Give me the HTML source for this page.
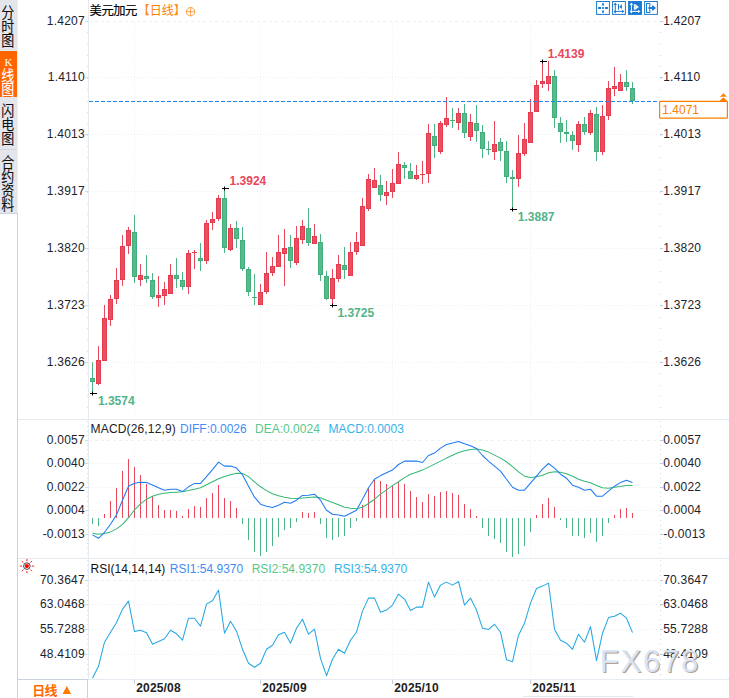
<!DOCTYPE html>
<html><head><meta charset="utf-8"><title>USDCAD</title>
<style>html,body{margin:0;padding:0;background:#fff;}body{width:729px;height:698px;overflow:hidden;font-family:"Liberation Sans",sans-serif;}</style>
</head><body><svg width="729" height="698" viewBox="0 0 729 698" shape-rendering="auto" style="display:block"><rect width="729" height="698" fill="#fff"/>
<line x1="89" y1="21.5" x2="657" y2="21.5" stroke="#edf1f5" stroke-width="1" stroke-dasharray="3 3"/>
<line x1="89" y1="77.5" x2="657" y2="77.5" stroke="#ebeef3" stroke-width="1" stroke-dasharray="1 2"/>
<line x1="89" y1="134.5" x2="657" y2="134.5" stroke="#ebeef3" stroke-width="1" stroke-dasharray="1 2"/>
<line x1="89" y1="191.5" x2="657" y2="191.5" stroke="#ebeef3" stroke-width="1" stroke-dasharray="1 2"/>
<line x1="89" y1="248.5" x2="657" y2="248.5" stroke="#ebeef3" stroke-width="1" stroke-dasharray="1 2"/>
<line x1="89" y1="305.5" x2="657" y2="305.5" stroke="#ebeef3" stroke-width="1" stroke-dasharray="1 2"/>
<line x1="89" y1="362.5" x2="657" y2="362.5" stroke="#ebeef3" stroke-width="1" stroke-dasharray="1 2"/>
<line x1="134.5" y1="22" x2="134.5" y2="418" stroke="#edf0f4" stroke-width="1" stroke-dasharray="1 2"/>
<line x1="134.5" y1="441" x2="134.5" y2="558" stroke="#edf0f4" stroke-width="1" stroke-dasharray="1 2"/>
<line x1="134.5" y1="581" x2="134.5" y2="679" stroke="#edf0f4" stroke-width="1" stroke-dasharray="1 2"/>
<line x1="260.5" y1="22" x2="260.5" y2="418" stroke="#edf0f4" stroke-width="1" stroke-dasharray="1 2"/>
<line x1="260.5" y1="441" x2="260.5" y2="558" stroke="#edf0f4" stroke-width="1" stroke-dasharray="1 2"/>
<line x1="260.5" y1="581" x2="260.5" y2="679" stroke="#edf0f4" stroke-width="1" stroke-dasharray="1 2"/>
<line x1="392.5" y1="22" x2="392.5" y2="418" stroke="#edf0f4" stroke-width="1" stroke-dasharray="1 2"/>
<line x1="392.5" y1="441" x2="392.5" y2="558" stroke="#edf0f4" stroke-width="1" stroke-dasharray="1 2"/>
<line x1="392.5" y1="581" x2="392.5" y2="679" stroke="#edf0f4" stroke-width="1" stroke-dasharray="1 2"/>
<line x1="530.5" y1="22" x2="530.5" y2="418" stroke="#edf0f4" stroke-width="1" stroke-dasharray="1 2"/>
<line x1="530.5" y1="441" x2="530.5" y2="558" stroke="#edf0f4" stroke-width="1" stroke-dasharray="1 2"/>
<line x1="530.5" y1="581" x2="530.5" y2="679" stroke="#edf0f4" stroke-width="1" stroke-dasharray="1 2"/>
<line x1="89" y1="440.5" x2="657" y2="440.5" stroke="#edf1f5" stroke-width="1" stroke-dasharray="3 3"/>
<line x1="89" y1="463.5" x2="657" y2="463.5" stroke="#ebeef3" stroke-width="1" stroke-dasharray="1 2"/>
<line x1="89" y1="487.5" x2="657" y2="487.5" stroke="#ebeef3" stroke-width="1" stroke-dasharray="1 2"/>
<line x1="89" y1="510.5" x2="657" y2="510.5" stroke="#ebeef3" stroke-width="1" stroke-dasharray="1 2"/>
<line x1="89" y1="534.5" x2="657" y2="534.5" stroke="#ebeef3" stroke-width="1" stroke-dasharray="1 2"/>
<line x1="89" y1="580.5" x2="657" y2="580.5" stroke="#edf1f5" stroke-width="1" stroke-dasharray="3 3"/>
<line x1="89" y1="604.5" x2="657" y2="604.5" stroke="#ebeef3" stroke-width="1" stroke-dasharray="1 2"/>
<line x1="89" y1="629.5" x2="657" y2="629.5" stroke="#ebeef3" stroke-width="1" stroke-dasharray="1 2"/>
<line x1="89" y1="654.5" x2="657" y2="654.5" stroke="#ebeef3" stroke-width="1" stroke-dasharray="1 2"/>
<line x1="18" y1="419.5" x2="729" y2="419.5" stroke="#e6ebf2"/>
<line x1="18" y1="558.5" x2="729" y2="558.5" stroke="#e6ebf2"/>
<line x1="18" y1="679.5" x2="729" y2="679.5" stroke="#e6ebf2"/>
<line x1="88.5" y1="0" x2="88.5" y2="679" stroke="#e6ebf2"/>
<line x1="87" y1="21.5" x2="88" y2="21.5" stroke="#d8dfe8"/>
<line x1="87" y1="32.5" x2="88" y2="32.5" stroke="#d8dfe8"/>
<line x1="87" y1="44.5" x2="88" y2="44.5" stroke="#d8dfe8"/>
<line x1="87" y1="55.5" x2="88" y2="55.5" stroke="#d8dfe8"/>
<line x1="87" y1="66.5" x2="88" y2="66.5" stroke="#d8dfe8"/>
<line x1="87" y1="78.5" x2="88" y2="78.5" stroke="#d8dfe8"/>
<line x1="87" y1="89.5" x2="88" y2="89.5" stroke="#d8dfe8"/>
<line x1="87" y1="101.5" x2="88" y2="101.5" stroke="#d8dfe8"/>
<line x1="87" y1="112.5" x2="88" y2="112.5" stroke="#d8dfe8"/>
<line x1="87" y1="123.5" x2="88" y2="123.5" stroke="#d8dfe8"/>
<line x1="87" y1="135.5" x2="88" y2="135.5" stroke="#d8dfe8"/>
<line x1="87" y1="146.5" x2="88" y2="146.5" stroke="#d8dfe8"/>
<line x1="87" y1="157.5" x2="88" y2="157.5" stroke="#d8dfe8"/>
<line x1="87" y1="169.5" x2="88" y2="169.5" stroke="#d8dfe8"/>
<line x1="87" y1="180.5" x2="88" y2="180.5" stroke="#d8dfe8"/>
<line x1="87" y1="192.5" x2="88" y2="192.5" stroke="#d8dfe8"/>
<line x1="87" y1="203.5" x2="88" y2="203.5" stroke="#d8dfe8"/>
<line x1="87" y1="214.5" x2="88" y2="214.5" stroke="#d8dfe8"/>
<line x1="87" y1="226.5" x2="88" y2="226.5" stroke="#d8dfe8"/>
<line x1="87" y1="237.5" x2="88" y2="237.5" stroke="#d8dfe8"/>
<line x1="87" y1="248.5" x2="88" y2="248.5" stroke="#d8dfe8"/>
<line x1="87" y1="260.5" x2="88" y2="260.5" stroke="#d8dfe8"/>
<line x1="87" y1="271.5" x2="88" y2="271.5" stroke="#d8dfe8"/>
<line x1="87" y1="282.5" x2="88" y2="282.5" stroke="#d8dfe8"/>
<line x1="87" y1="294.5" x2="88" y2="294.5" stroke="#d8dfe8"/>
<line x1="87" y1="305.5" x2="88" y2="305.5" stroke="#d8dfe8"/>
<line x1="87" y1="317.5" x2="88" y2="317.5" stroke="#d8dfe8"/>
<line x1="87" y1="328.5" x2="88" y2="328.5" stroke="#d8dfe8"/>
<line x1="87" y1="339.5" x2="88" y2="339.5" stroke="#d8dfe8"/>
<line x1="87" y1="351.5" x2="88" y2="351.5" stroke="#d8dfe8"/>
<line x1="87" y1="362.5" x2="88" y2="362.5" stroke="#d8dfe8"/>
<line x1="87" y1="373.5" x2="88" y2="373.5" stroke="#d8dfe8"/>
<line x1="87" y1="385.5" x2="88" y2="385.5" stroke="#d8dfe8"/>
<line x1="87" y1="396.5" x2="88" y2="396.5" stroke="#d8dfe8"/>
<line x1="87" y1="407.5" x2="88" y2="407.5" stroke="#d8dfe8"/>
<line x1="660" y1="21.5" x2="661" y2="21.5" stroke="#d0d8e2"/>
<line x1="660" y1="32.5" x2="661" y2="32.5" stroke="#d0d8e2"/>
<line x1="660" y1="44.5" x2="661" y2="44.5" stroke="#d0d8e2"/>
<line x1="660" y1="55.5" x2="661" y2="55.5" stroke="#d0d8e2"/>
<line x1="660" y1="66.5" x2="661" y2="66.5" stroke="#d0d8e2"/>
<line x1="660" y1="78.5" x2="661" y2="78.5" stroke="#d0d8e2"/>
<line x1="660" y1="89.5" x2="661" y2="89.5" stroke="#d0d8e2"/>
<line x1="660" y1="101.5" x2="661" y2="101.5" stroke="#d0d8e2"/>
<line x1="660" y1="112.5" x2="661" y2="112.5" stroke="#d0d8e2"/>
<line x1="660" y1="123.5" x2="661" y2="123.5" stroke="#d0d8e2"/>
<line x1="660" y1="135.5" x2="661" y2="135.5" stroke="#d0d8e2"/>
<line x1="660" y1="146.5" x2="661" y2="146.5" stroke="#d0d8e2"/>
<line x1="660" y1="157.5" x2="661" y2="157.5" stroke="#d0d8e2"/>
<line x1="660" y1="169.5" x2="661" y2="169.5" stroke="#d0d8e2"/>
<line x1="660" y1="180.5" x2="661" y2="180.5" stroke="#d0d8e2"/>
<line x1="660" y1="192.5" x2="661" y2="192.5" stroke="#d0d8e2"/>
<line x1="660" y1="203.5" x2="661" y2="203.5" stroke="#d0d8e2"/>
<line x1="660" y1="214.5" x2="661" y2="214.5" stroke="#d0d8e2"/>
<line x1="660" y1="226.5" x2="661" y2="226.5" stroke="#d0d8e2"/>
<line x1="660" y1="237.5" x2="661" y2="237.5" stroke="#d0d8e2"/>
<line x1="660" y1="248.5" x2="661" y2="248.5" stroke="#d0d8e2"/>
<line x1="660" y1="260.5" x2="661" y2="260.5" stroke="#d0d8e2"/>
<line x1="660" y1="271.5" x2="661" y2="271.5" stroke="#d0d8e2"/>
<line x1="660" y1="282.5" x2="661" y2="282.5" stroke="#d0d8e2"/>
<line x1="660" y1="294.5" x2="661" y2="294.5" stroke="#d0d8e2"/>
<line x1="660" y1="305.5" x2="661" y2="305.5" stroke="#d0d8e2"/>
<line x1="660" y1="317.5" x2="661" y2="317.5" stroke="#d0d8e2"/>
<line x1="660" y1="328.5" x2="661" y2="328.5" stroke="#d0d8e2"/>
<line x1="660" y1="339.5" x2="661" y2="339.5" stroke="#d0d8e2"/>
<line x1="660" y1="351.5" x2="661" y2="351.5" stroke="#d0d8e2"/>
<line x1="660" y1="362.5" x2="661" y2="362.5" stroke="#d0d8e2"/>
<line x1="660" y1="373.5" x2="661" y2="373.5" stroke="#d0d8e2"/>
<line x1="660" y1="385.5" x2="661" y2="385.5" stroke="#d0d8e2"/>
<line x1="660" y1="396.5" x2="661" y2="396.5" stroke="#d0d8e2"/>
<line x1="660" y1="407.5" x2="661" y2="407.5" stroke="#d0d8e2"/>
<line x1="85" y1="21.5" x2="88" y2="21.5" stroke="#d3dae3"/>
<line x1="85" y1="77.5" x2="88" y2="77.5" stroke="#d3dae3"/>
<line x1="85" y1="134.5" x2="88" y2="134.5" stroke="#d3dae3"/>
<line x1="85" y1="191.5" x2="88" y2="191.5" stroke="#d3dae3"/>
<line x1="85" y1="248.5" x2="88" y2="248.5" stroke="#d3dae3"/>
<line x1="85" y1="305.5" x2="88" y2="305.5" stroke="#d3dae3"/>
<line x1="85" y1="362.5" x2="88" y2="362.5" stroke="#d3dae3"/>
<line x1="660" y1="21.5" x2="663" y2="21.5" stroke="#c0c8d3"/>
<line x1="660" y1="77.5" x2="663" y2="77.5" stroke="#c0c8d3"/>
<line x1="660" y1="134.5" x2="663" y2="134.5" stroke="#c0c8d3"/>
<line x1="660" y1="191.5" x2="663" y2="191.5" stroke="#c0c8d3"/>
<line x1="660" y1="248.5" x2="663" y2="248.5" stroke="#c0c8d3"/>
<line x1="660" y1="305.5" x2="663" y2="305.5" stroke="#c0c8d3"/>
<line x1="660" y1="362.5" x2="663" y2="362.5" stroke="#c0c8d3"/>
<line x1="87" y1="421.5" x2="88" y2="421.5" stroke="#d8dfe8"/>
<line x1="87" y1="426.5" x2="88" y2="426.5" stroke="#d8dfe8"/>
<line x1="87" y1="431.5" x2="88" y2="431.5" stroke="#d8dfe8"/>
<line x1="87" y1="435.5" x2="88" y2="435.5" stroke="#d8dfe8"/>
<line x1="87" y1="440.5" x2="88" y2="440.5" stroke="#d8dfe8"/>
<line x1="87" y1="445.5" x2="88" y2="445.5" stroke="#d8dfe8"/>
<line x1="87" y1="449.5" x2="88" y2="449.5" stroke="#d8dfe8"/>
<line x1="87" y1="454.5" x2="88" y2="454.5" stroke="#d8dfe8"/>
<line x1="87" y1="459.5" x2="88" y2="459.5" stroke="#d8dfe8"/>
<line x1="87" y1="463.5" x2="88" y2="463.5" stroke="#d8dfe8"/>
<line x1="87" y1="468.5" x2="88" y2="468.5" stroke="#d8dfe8"/>
<line x1="87" y1="473.5" x2="88" y2="473.5" stroke="#d8dfe8"/>
<line x1="87" y1="478.5" x2="88" y2="478.5" stroke="#d8dfe8"/>
<line x1="87" y1="482.5" x2="88" y2="482.5" stroke="#d8dfe8"/>
<line x1="87" y1="487.5" x2="88" y2="487.5" stroke="#d8dfe8"/>
<line x1="87" y1="492.5" x2="88" y2="492.5" stroke="#d8dfe8"/>
<line x1="87" y1="496.5" x2="88" y2="496.5" stroke="#d8dfe8"/>
<line x1="87" y1="501.5" x2="88" y2="501.5" stroke="#d8dfe8"/>
<line x1="87" y1="506.5" x2="88" y2="506.5" stroke="#d8dfe8"/>
<line x1="87" y1="510.5" x2="88" y2="510.5" stroke="#d8dfe8"/>
<line x1="87" y1="515.5" x2="88" y2="515.5" stroke="#d8dfe8"/>
<line x1="87" y1="520.5" x2="88" y2="520.5" stroke="#d8dfe8"/>
<line x1="87" y1="525.5" x2="88" y2="525.5" stroke="#d8dfe8"/>
<line x1="87" y1="529.5" x2="88" y2="529.5" stroke="#d8dfe8"/>
<line x1="87" y1="534.5" x2="88" y2="534.5" stroke="#d8dfe8"/>
<line x1="87" y1="539.5" x2="88" y2="539.5" stroke="#d8dfe8"/>
<line x1="87" y1="543.5" x2="88" y2="543.5" stroke="#d8dfe8"/>
<line x1="87" y1="548.5" x2="88" y2="548.5" stroke="#d8dfe8"/>
<line x1="87" y1="553.5" x2="88" y2="553.5" stroke="#d8dfe8"/>
<line x1="660" y1="421.5" x2="661" y2="421.5" stroke="#d0d8e2"/>
<line x1="660" y1="426.5" x2="661" y2="426.5" stroke="#d0d8e2"/>
<line x1="660" y1="431.5" x2="661" y2="431.5" stroke="#d0d8e2"/>
<line x1="660" y1="435.5" x2="661" y2="435.5" stroke="#d0d8e2"/>
<line x1="660" y1="440.5" x2="661" y2="440.5" stroke="#d0d8e2"/>
<line x1="660" y1="445.5" x2="661" y2="445.5" stroke="#d0d8e2"/>
<line x1="660" y1="449.5" x2="661" y2="449.5" stroke="#d0d8e2"/>
<line x1="660" y1="454.5" x2="661" y2="454.5" stroke="#d0d8e2"/>
<line x1="660" y1="459.5" x2="661" y2="459.5" stroke="#d0d8e2"/>
<line x1="660" y1="463.5" x2="661" y2="463.5" stroke="#d0d8e2"/>
<line x1="660" y1="468.5" x2="661" y2="468.5" stroke="#d0d8e2"/>
<line x1="660" y1="473.5" x2="661" y2="473.5" stroke="#d0d8e2"/>
<line x1="660" y1="478.5" x2="661" y2="478.5" stroke="#d0d8e2"/>
<line x1="660" y1="482.5" x2="661" y2="482.5" stroke="#d0d8e2"/>
<line x1="660" y1="487.5" x2="661" y2="487.5" stroke="#d0d8e2"/>
<line x1="660" y1="492.5" x2="661" y2="492.5" stroke="#d0d8e2"/>
<line x1="660" y1="496.5" x2="661" y2="496.5" stroke="#d0d8e2"/>
<line x1="660" y1="501.5" x2="661" y2="501.5" stroke="#d0d8e2"/>
<line x1="660" y1="506.5" x2="661" y2="506.5" stroke="#d0d8e2"/>
<line x1="660" y1="510.5" x2="661" y2="510.5" stroke="#d0d8e2"/>
<line x1="660" y1="515.5" x2="661" y2="515.5" stroke="#d0d8e2"/>
<line x1="660" y1="520.5" x2="661" y2="520.5" stroke="#d0d8e2"/>
<line x1="660" y1="525.5" x2="661" y2="525.5" stroke="#d0d8e2"/>
<line x1="660" y1="529.5" x2="661" y2="529.5" stroke="#d0d8e2"/>
<line x1="660" y1="534.5" x2="661" y2="534.5" stroke="#d0d8e2"/>
<line x1="660" y1="539.5" x2="661" y2="539.5" stroke="#d0d8e2"/>
<line x1="660" y1="543.5" x2="661" y2="543.5" stroke="#d0d8e2"/>
<line x1="660" y1="548.5" x2="661" y2="548.5" stroke="#d0d8e2"/>
<line x1="660" y1="553.5" x2="661" y2="553.5" stroke="#d0d8e2"/>
<line x1="85" y1="440.5" x2="88" y2="440.5" stroke="#d3dae3"/>
<line x1="85" y1="463.5" x2="88" y2="463.5" stroke="#d3dae3"/>
<line x1="85" y1="487.5" x2="88" y2="487.5" stroke="#d3dae3"/>
<line x1="85" y1="510.5" x2="88" y2="510.5" stroke="#d3dae3"/>
<line x1="85" y1="534.5" x2="88" y2="534.5" stroke="#d3dae3"/>
<line x1="660" y1="440.5" x2="663" y2="440.5" stroke="#c0c8d3"/>
<line x1="660" y1="463.5" x2="663" y2="463.5" stroke="#c0c8d3"/>
<line x1="660" y1="487.5" x2="663" y2="487.5" stroke="#c0c8d3"/>
<line x1="660" y1="510.5" x2="663" y2="510.5" stroke="#c0c8d3"/>
<line x1="660" y1="534.5" x2="663" y2="534.5" stroke="#c0c8d3"/>
<line x1="87" y1="560.5" x2="88" y2="560.5" stroke="#d8dfe8"/>
<line x1="87" y1="565.5" x2="88" y2="565.5" stroke="#d8dfe8"/>
<line x1="87" y1="570.5" x2="88" y2="570.5" stroke="#d8dfe8"/>
<line x1="87" y1="575.5" x2="88" y2="575.5" stroke="#d8dfe8"/>
<line x1="87" y1="580.5" x2="88" y2="580.5" stroke="#d8dfe8"/>
<line x1="87" y1="585.5" x2="88" y2="585.5" stroke="#d8dfe8"/>
<line x1="87" y1="590.5" x2="88" y2="590.5" stroke="#d8dfe8"/>
<line x1="87" y1="595.5" x2="88" y2="595.5" stroke="#d8dfe8"/>
<line x1="87" y1="600.5" x2="88" y2="600.5" stroke="#d8dfe8"/>
<line x1="87" y1="605.5" x2="88" y2="605.5" stroke="#d8dfe8"/>
<line x1="87" y1="610.5" x2="88" y2="610.5" stroke="#d8dfe8"/>
<line x1="87" y1="615.5" x2="88" y2="615.5" stroke="#d8dfe8"/>
<line x1="87" y1="619.5" x2="88" y2="619.5" stroke="#d8dfe8"/>
<line x1="87" y1="624.5" x2="88" y2="624.5" stroke="#d8dfe8"/>
<line x1="87" y1="629.5" x2="88" y2="629.5" stroke="#d8dfe8"/>
<line x1="87" y1="634.5" x2="88" y2="634.5" stroke="#d8dfe8"/>
<line x1="87" y1="639.5" x2="88" y2="639.5" stroke="#d8dfe8"/>
<line x1="87" y1="644.5" x2="88" y2="644.5" stroke="#d8dfe8"/>
<line x1="87" y1="649.5" x2="88" y2="649.5" stroke="#d8dfe8"/>
<line x1="87" y1="654.5" x2="88" y2="654.5" stroke="#d8dfe8"/>
<line x1="87" y1="659.5" x2="88" y2="659.5" stroke="#d8dfe8"/>
<line x1="87" y1="664.5" x2="88" y2="664.5" stroke="#d8dfe8"/>
<line x1="87" y1="669.5" x2="88" y2="669.5" stroke="#d8dfe8"/>
<line x1="87" y1="674.5" x2="88" y2="674.5" stroke="#d8dfe8"/>
<line x1="660" y1="560.5" x2="661" y2="560.5" stroke="#d0d8e2"/>
<line x1="660" y1="565.5" x2="661" y2="565.5" stroke="#d0d8e2"/>
<line x1="660" y1="570.5" x2="661" y2="570.5" stroke="#d0d8e2"/>
<line x1="660" y1="575.5" x2="661" y2="575.5" stroke="#d0d8e2"/>
<line x1="660" y1="580.5" x2="661" y2="580.5" stroke="#d0d8e2"/>
<line x1="660" y1="585.5" x2="661" y2="585.5" stroke="#d0d8e2"/>
<line x1="660" y1="590.5" x2="661" y2="590.5" stroke="#d0d8e2"/>
<line x1="660" y1="595.5" x2="661" y2="595.5" stroke="#d0d8e2"/>
<line x1="660" y1="600.5" x2="661" y2="600.5" stroke="#d0d8e2"/>
<line x1="660" y1="605.5" x2="661" y2="605.5" stroke="#d0d8e2"/>
<line x1="660" y1="610.5" x2="661" y2="610.5" stroke="#d0d8e2"/>
<line x1="660" y1="615.5" x2="661" y2="615.5" stroke="#d0d8e2"/>
<line x1="660" y1="619.5" x2="661" y2="619.5" stroke="#d0d8e2"/>
<line x1="660" y1="624.5" x2="661" y2="624.5" stroke="#d0d8e2"/>
<line x1="660" y1="629.5" x2="661" y2="629.5" stroke="#d0d8e2"/>
<line x1="660" y1="634.5" x2="661" y2="634.5" stroke="#d0d8e2"/>
<line x1="660" y1="639.5" x2="661" y2="639.5" stroke="#d0d8e2"/>
<line x1="660" y1="644.5" x2="661" y2="644.5" stroke="#d0d8e2"/>
<line x1="660" y1="649.5" x2="661" y2="649.5" stroke="#d0d8e2"/>
<line x1="660" y1="654.5" x2="661" y2="654.5" stroke="#d0d8e2"/>
<line x1="660" y1="659.5" x2="661" y2="659.5" stroke="#d0d8e2"/>
<line x1="660" y1="664.5" x2="661" y2="664.5" stroke="#d0d8e2"/>
<line x1="660" y1="669.5" x2="661" y2="669.5" stroke="#d0d8e2"/>
<line x1="660" y1="674.5" x2="661" y2="674.5" stroke="#d0d8e2"/>
<line x1="85" y1="580.5" x2="88" y2="580.5" stroke="#d3dae3"/>
<line x1="85" y1="604.5" x2="88" y2="604.5" stroke="#d3dae3"/>
<line x1="85" y1="629.5" x2="88" y2="629.5" stroke="#d3dae3"/>
<line x1="85" y1="654.5" x2="88" y2="654.5" stroke="#d3dae3"/>
<line x1="660" y1="580.5" x2="663" y2="580.5" stroke="#c0c8d3"/>
<line x1="660" y1="604.5" x2="663" y2="604.5" stroke="#c0c8d3"/>
<line x1="660" y1="629.5" x2="663" y2="629.5" stroke="#c0c8d3"/>
<line x1="660" y1="654.5" x2="663" y2="654.5" stroke="#c0c8d3"/>
<rect x="92" y="362" width="1" height="32" fill="#4db486"/>
<rect x="90.5" y="378.5" width="4" height="3" fill="#56ba8a" stroke="#41ae7c"/>
<rect x="98" y="346" width="1" height="39" fill="#e8485c"/>
<rect x="96.5" y="360.5" width="4" height="23" fill="#ea4e61" stroke="#e63a4f"/>
<rect x="104" y="305" width="1" height="56" fill="#e8485c"/>
<rect x="102.5" y="318.5" width="4" height="42" fill="#ea4e61" stroke="#e63a4f"/>
<rect x="110" y="295" width="1" height="31" fill="#e8485c"/>
<rect x="108.5" y="299.5" width="4" height="20" fill="#ea4e61" stroke="#e63a4f"/>
<rect x="116" y="268" width="1" height="36" fill="#e8485c"/>
<rect x="114.5" y="280.5" width="4" height="18" fill="#ea4e61" stroke="#e63a4f"/>
<rect x="122" y="235" width="1" height="51" fill="#e8485c"/>
<rect x="120.5" y="246.5" width="4" height="33" fill="#ea4e61" stroke="#e63a4f"/>
<rect x="128" y="227" width="1" height="27" fill="#e8485c"/>
<rect x="126.5" y="230.5" width="4" height="15" fill="#ea4e61" stroke="#e63a4f"/>
<rect x="134" y="215" width="1" height="68" fill="#4db486"/>
<rect x="132.5" y="232.5" width="4" height="44" fill="#56ba8a" stroke="#41ae7c"/>
<rect x="140" y="264" width="1" height="22" fill="#e8485c"/>
<rect x="138.5" y="275.5" width="4" height="4" fill="#ea4e61" stroke="#e63a4f"/>
<rect x="146" y="255" width="1" height="28" fill="#4db486"/>
<rect x="144.5" y="276.5" width="4" height="2" fill="#56ba8a" stroke="#41ae7c"/>
<rect x="152" y="273" width="1" height="26" fill="#4db486"/>
<rect x="150.5" y="280.5" width="4" height="16" fill="#56ba8a" stroke="#41ae7c"/>
<rect x="158" y="276" width="1" height="31" fill="#e8485c"/>
<rect x="156.5" y="295.5" width="4" height="2" fill="#ea4e61" stroke="#e63a4f"/>
<rect x="164" y="282" width="1" height="23" fill="#e8485c"/>
<rect x="162.5" y="289.5" width="4" height="6" fill="#ea4e61" stroke="#e63a4f"/>
<rect x="170" y="264" width="1" height="30" fill="#e8485c"/>
<rect x="168.5" y="275.5" width="4" height="18" fill="#ea4e61" stroke="#e63a4f"/>
<rect x="176" y="258" width="1" height="30" fill="#4db486"/>
<rect x="174.5" y="275.5" width="4" height="3" fill="#56ba8a" stroke="#41ae7c"/>
<rect x="182" y="272" width="1" height="18" fill="#4db486"/>
<rect x="180.5" y="280.5" width="4" height="6" fill="#56ba8a" stroke="#41ae7c"/>
<rect x="188" y="250" width="1" height="44" fill="#e8485c"/>
<rect x="186.5" y="253.5" width="4" height="33" fill="#ea4e61" stroke="#e63a4f"/>
<rect x="194" y="250" width="1" height="19" fill="#e8485c"/>
<rect x="192" y="252" width="5" height="1" fill="#e63a4f"/>
<rect x="200" y="243" width="1" height="28" fill="#4db486"/>
<rect x="198.5" y="258.5" width="4" height="2" fill="#56ba8a" stroke="#41ae7c"/>
<rect x="206" y="220" width="1" height="44" fill="#e8485c"/>
<rect x="204.5" y="223.5" width="4" height="37" fill="#ea4e61" stroke="#e63a4f"/>
<rect x="212" y="212" width="1" height="18" fill="#e8485c"/>
<rect x="210.5" y="219.5" width="4" height="3" fill="#ea4e61" stroke="#e63a4f"/>
<rect x="218" y="195" width="1" height="26" fill="#e8485c"/>
<rect x="216.5" y="198.5" width="4" height="20" fill="#ea4e61" stroke="#e63a4f"/>
<rect x="224" y="188" width="1" height="65" fill="#4db486"/>
<rect x="222.5" y="198.5" width="4" height="49" fill="#56ba8a" stroke="#41ae7c"/>
<rect x="230" y="224" width="1" height="27" fill="#e8485c"/>
<rect x="228.5" y="228.5" width="4" height="21" fill="#ea4e61" stroke="#e63a4f"/>
<rect x="236" y="221" width="1" height="27" fill="#4db486"/>
<rect x="234.5" y="228.5" width="4" height="10" fill="#56ba8a" stroke="#41ae7c"/>
<rect x="242" y="227" width="1" height="44" fill="#4db486"/>
<rect x="240.5" y="240.5" width="4" height="28" fill="#56ba8a" stroke="#41ae7c"/>
<rect x="248" y="267" width="1" height="29" fill="#4db486"/>
<rect x="246.5" y="269.5" width="4" height="22" fill="#56ba8a" stroke="#41ae7c"/>
<rect x="254" y="274" width="1" height="31" fill="#4db486"/>
<rect x="252" y="297" width="5" height="1" fill="#41ae7c"/>
<rect x="260" y="284" width="1" height="21" fill="#e8485c"/>
<rect x="258.5" y="292.5" width="4" height="12" fill="#ea4e61" stroke="#e63a4f"/>
<rect x="266" y="252" width="1" height="42" fill="#e8485c"/>
<rect x="264.5" y="273.5" width="4" height="18" fill="#ea4e61" stroke="#e63a4f"/>
<rect x="272" y="257" width="1" height="19" fill="#e8485c"/>
<rect x="270.5" y="266.5" width="4" height="6" fill="#ea4e61" stroke="#e63a4f"/>
<rect x="278" y="235" width="1" height="32" fill="#e8485c"/>
<rect x="276.5" y="252.5" width="4" height="14" fill="#ea4e61" stroke="#e63a4f"/>
<rect x="284" y="229" width="1" height="57" fill="#e8485c"/>
<rect x="282.5" y="248.5" width="4" height="5" fill="#ea4e61" stroke="#e63a4f"/>
<rect x="290" y="235" width="1" height="33" fill="#4db486"/>
<rect x="288.5" y="247.5" width="4" height="13" fill="#56ba8a" stroke="#41ae7c"/>
<rect x="296" y="226" width="1" height="39" fill="#e8485c"/>
<rect x="294.5" y="238.5" width="4" height="24" fill="#ea4e61" stroke="#e63a4f"/>
<rect x="302" y="220" width="1" height="24" fill="#e8485c"/>
<rect x="300.5" y="226.5" width="4" height="13" fill="#ea4e61" stroke="#e63a4f"/>
<rect x="308" y="208" width="1" height="38" fill="#4db486"/>
<rect x="306.5" y="228.5" width="4" height="14" fill="#56ba8a" stroke="#41ae7c"/>
<rect x="314" y="224" width="1" height="20" fill="#e8485c"/>
<rect x="312.5" y="236.5" width="4" height="7" fill="#ea4e61" stroke="#e63a4f"/>
<rect x="320" y="234" width="1" height="47" fill="#4db486"/>
<rect x="318.5" y="242.5" width="4" height="32" fill="#56ba8a" stroke="#41ae7c"/>
<rect x="326" y="271" width="1" height="29" fill="#4db486"/>
<rect x="324.5" y="276.5" width="4" height="22" fill="#56ba8a" stroke="#41ae7c"/>
<rect x="332" y="269" width="1" height="36" fill="#e8485c"/>
<rect x="330.5" y="278.5" width="4" height="20" fill="#ea4e61" stroke="#e63a4f"/>
<rect x="338" y="255" width="1" height="27" fill="#e8485c"/>
<rect x="336.5" y="264.5" width="4" height="14" fill="#ea4e61" stroke="#e63a4f"/>
<rect x="344" y="247" width="1" height="32" fill="#4db486"/>
<rect x="342.5" y="265.5" width="4" height="4" fill="#56ba8a" stroke="#41ae7c"/>
<rect x="350" y="242" width="1" height="34" fill="#e8485c"/>
<rect x="348.5" y="252.5" width="4" height="23" fill="#ea4e61" stroke="#e63a4f"/>
<rect x="356" y="232" width="1" height="23" fill="#e8485c"/>
<rect x="354.5" y="242.5" width="4" height="9" fill="#ea4e61" stroke="#e63a4f"/>
<rect x="362" y="198" width="1" height="48" fill="#e8485c"/>
<rect x="360.5" y="206.5" width="4" height="39" fill="#ea4e61" stroke="#e63a4f"/>
<rect x="368" y="174" width="1" height="37" fill="#e8485c"/>
<rect x="366.5" y="179.5" width="4" height="29" fill="#ea4e61" stroke="#e63a4f"/>
<rect x="374" y="168" width="1" height="20" fill="#e8485c"/>
<rect x="372.5" y="180.5" width="4" height="7" fill="#ea4e61" stroke="#e63a4f"/>
<rect x="380" y="175" width="1" height="26" fill="#4db486"/>
<rect x="378.5" y="185.5" width="4" height="9" fill="#56ba8a" stroke="#41ae7c"/>
<rect x="386" y="181" width="1" height="24" fill="#e8485c"/>
<rect x="384.5" y="192.5" width="4" height="3" fill="#ea4e61" stroke="#e63a4f"/>
<rect x="392" y="169" width="1" height="29" fill="#e8485c"/>
<rect x="390.5" y="183.5" width="4" height="8" fill="#ea4e61" stroke="#e63a4f"/>
<rect x="398" y="152" width="1" height="32" fill="#e8485c"/>
<rect x="396.5" y="164.5" width="4" height="19" fill="#ea4e61" stroke="#e63a4f"/>
<rect x="404" y="162" width="1" height="17" fill="#4db486"/>
<rect x="402.5" y="165.5" width="4" height="2" fill="#56ba8a" stroke="#41ae7c"/>
<rect x="410" y="163" width="1" height="16" fill="#4db486"/>
<rect x="408.5" y="171.5" width="4" height="7" fill="#56ba8a" stroke="#41ae7c"/>
<rect x="416" y="165" width="1" height="15" fill="#e8485c"/>
<rect x="414.5" y="175.5" width="4" height="3" fill="#ea4e61" stroke="#e63a4f"/>
<rect x="422" y="161" width="1" height="23" fill="#e8485c"/>
<rect x="420" y="174" width="5" height="1" fill="#e63a4f"/>
<rect x="428" y="124" width="1" height="59" fill="#e8485c"/>
<rect x="426.5" y="133.5" width="4" height="40" fill="#ea4e61" stroke="#e63a4f"/>
<rect x="434" y="124" width="1" height="34" fill="#4db486"/>
<rect x="432.5" y="136.5" width="4" height="9" fill="#56ba8a" stroke="#41ae7c"/>
<rect x="440" y="121" width="1" height="33" fill="#e8485c"/>
<rect x="438.5" y="123.5" width="4" height="28" fill="#ea4e61" stroke="#e63a4f"/>
<rect x="446" y="97" width="1" height="30" fill="#e8485c"/>
<rect x="444.5" y="118.5" width="4" height="6" fill="#ea4e61" stroke="#e63a4f"/>
<rect x="452" y="108" width="1" height="20" fill="#4db486"/>
<rect x="450" y="120" width="5" height="1" fill="#41ae7c"/>
<rect x="458" y="108" width="1" height="22" fill="#e8485c"/>
<rect x="456.5" y="113.5" width="4" height="9" fill="#ea4e61" stroke="#e63a4f"/>
<rect x="464" y="104" width="1" height="34" fill="#4db486"/>
<rect x="462.5" y="113.5" width="4" height="19" fill="#56ba8a" stroke="#41ae7c"/>
<rect x="470" y="114" width="1" height="27" fill="#e8485c"/>
<rect x="468.5" y="122.5" width="4" height="14" fill="#ea4e61" stroke="#e63a4f"/>
<rect x="476" y="105" width="1" height="37" fill="#4db486"/>
<rect x="474.5" y="123.5" width="4" height="7" fill="#56ba8a" stroke="#41ae7c"/>
<rect x="482" y="125" width="1" height="33" fill="#4db486"/>
<rect x="480.5" y="132.5" width="4" height="16" fill="#56ba8a" stroke="#41ae7c"/>
<rect x="488" y="141" width="1" height="14" fill="#4db486"/>
<rect x="486" y="149" width="5" height="1" fill="#41ae7c"/>
<rect x="494" y="121" width="1" height="39" fill="#e8485c"/>
<rect x="492.5" y="144.5" width="4" height="7" fill="#ea4e61" stroke="#e63a4f"/>
<rect x="500" y="138" width="1" height="23" fill="#4db486"/>
<rect x="498.5" y="142.5" width="4" height="8" fill="#56ba8a" stroke="#41ae7c"/>
<rect x="506" y="141" width="1" height="42" fill="#4db486"/>
<rect x="504.5" y="151.5" width="4" height="25" fill="#56ba8a" stroke="#41ae7c"/>
<rect x="512" y="170" width="1" height="39" fill="#4db486"/>
<rect x="510.5" y="177.5" width="4" height="1" fill="#56ba8a" stroke="#41ae7c"/>
<rect x="518" y="135" width="1" height="52" fill="#e8485c"/>
<rect x="516.5" y="153.5" width="4" height="25" fill="#ea4e61" stroke="#e63a4f"/>
<rect x="524" y="123" width="1" height="33" fill="#e8485c"/>
<rect x="522.5" y="139.5" width="4" height="14" fill="#ea4e61" stroke="#e63a4f"/>
<rect x="530" y="99" width="1" height="44" fill="#e8485c"/>
<rect x="528.5" y="112.5" width="4" height="30" fill="#ea4e61" stroke="#e63a4f"/>
<rect x="536" y="80" width="1" height="32" fill="#e8485c"/>
<rect x="534.5" y="85.5" width="4" height="26" fill="#ea4e61" stroke="#e63a4f"/>
<rect x="542" y="61" width="1" height="27" fill="#e8485c"/>
<rect x="540.5" y="81.5" width="4" height="2" fill="#ea4e61" stroke="#e63a4f"/>
<rect x="548" y="61" width="1" height="30" fill="#e8485c"/>
<rect x="546.5" y="76.5" width="4" height="7" fill="#ea4e61" stroke="#e63a4f"/>
<rect x="554" y="70" width="1" height="58" fill="#4db486"/>
<rect x="552.5" y="76.5" width="4" height="41" fill="#56ba8a" stroke="#41ae7c"/>
<rect x="560" y="117" width="1" height="26" fill="#4db486"/>
<rect x="558.5" y="123.5" width="4" height="8" fill="#56ba8a" stroke="#41ae7c"/>
<rect x="566" y="120" width="1" height="22" fill="#4db486"/>
<rect x="564.5" y="132.5" width="4" height="1" fill="#56ba8a" stroke="#41ae7c"/>
<rect x="572" y="131" width="1" height="19" fill="#4db486"/>
<rect x="570.5" y="135.5" width="4" height="5" fill="#56ba8a" stroke="#41ae7c"/>
<rect x="578" y="121" width="1" height="31" fill="#e8485c"/>
<rect x="576.5" y="124.5" width="4" height="20" fill="#ea4e61" stroke="#e63a4f"/>
<rect x="584" y="117" width="1" height="18" fill="#4db486"/>
<rect x="582.5" y="124.5" width="4" height="7" fill="#56ba8a" stroke="#41ae7c"/>
<rect x="590" y="110" width="1" height="25" fill="#e8485c"/>
<rect x="588.5" y="113.5" width="4" height="19" fill="#ea4e61" stroke="#e63a4f"/>
<rect x="596" y="107" width="1" height="54" fill="#4db486"/>
<rect x="594.5" y="114.5" width="4" height="37" fill="#56ba8a" stroke="#41ae7c"/>
<rect x="602" y="105" width="1" height="50" fill="#e8485c"/>
<rect x="600.5" y="116.5" width="4" height="35" fill="#ea4e61" stroke="#e63a4f"/>
<rect x="608" y="81" width="1" height="39" fill="#e8485c"/>
<rect x="606.5" y="88.5" width="4" height="27" fill="#ea4e61" stroke="#e63a4f"/>
<rect x="614" y="67" width="1" height="29" fill="#e8485c"/>
<rect x="612.5" y="86.5" width="4" height="2" fill="#ea4e61" stroke="#e63a4f"/>
<rect x="620" y="74" width="1" height="17" fill="#e8485c"/>
<rect x="618.5" y="82.5" width="4" height="8" fill="#ea4e61" stroke="#e63a4f"/>
<rect x="626" y="70" width="1" height="21" fill="#4db486"/>
<rect x="624.5" y="82.5" width="4" height="4" fill="#56ba8a" stroke="#41ae7c"/>
<rect x="632" y="82" width="1" height="22" fill="#4db486"/>
<rect x="630.5" y="88.5" width="4" height="12" fill="#56ba8a" stroke="#41ae7c"/>
<line x1="89" y1="101.5" x2="657" y2="101.5" stroke="#1e87f0" stroke-width="1" stroke-dasharray="4 2"/>
<path d="M90.0 393.5H97.0M92.5 391.5V395.5" stroke="#000" stroke-width="1" fill="none"/>
<path d="M222.0 188.5H229.0M224.5 186.5V190.5" stroke="#000" stroke-width="1" fill="none"/>
<path d="M330.0 305.5H337.0M332.5 303.5V307.5" stroke="#000" stroke-width="1" fill="none"/>
<path d="M510.0 209.5H517.0M512.5 207.5V211.5" stroke="#000" stroke-width="1" fill="none"/>
<path d="M540.0 61.5H547.0M542.5 59.5V63.5" stroke="#000" stroke-width="1" fill="none"/>
<text x="97.9" y="404.90000000000003" font-family="Liberation Sans, sans-serif" font-size="12" font-weight="bold" fill="#52b488">1.3574</text>
<text x="229.6" y="184.9" font-family="Liberation Sans, sans-serif" font-size="12" font-weight="bold" fill="#e8475b">1.3924</text>
<text x="337.4" y="316.5" font-family="Liberation Sans, sans-serif" font-size="12" font-weight="bold" fill="#52b488">1.3725</text>
<text x="517.8" y="220.8" font-family="Liberation Sans, sans-serif" font-size="12" font-weight="bold" fill="#52b488">1.3887</text>
<text x="547.7" y="57.9" font-family="Liberation Sans, sans-serif" font-size="12" font-weight="bold" fill="#e8475b">1.4139</text>
<rect x="92" y="518" width="1" height="6" fill="#4db486"/>
<rect x="98" y="518" width="1" height="8" fill="#4db486"/>
<rect x="104" y="514" width="1" height="4" fill="#e8485c"/>
<rect x="110" y="501" width="1" height="17" fill="#e8485c"/>
<rect x="116" y="488" width="1" height="30" fill="#e8485c"/>
<rect x="122" y="471" width="1" height="47" fill="#e8485c"/>
<rect x="128" y="459" width="1" height="59" fill="#e8485c"/>
<rect x="134" y="467" width="1" height="51" fill="#e8485c"/>
<rect x="140" y="475" width="1" height="43" fill="#e8485c"/>
<rect x="146" y="484" width="1" height="34" fill="#e8485c"/>
<rect x="152" y="496" width="1" height="22" fill="#e8485c"/>
<rect x="158" y="505" width="1" height="13" fill="#e8485c"/>
<rect x="164" y="510" width="1" height="8" fill="#e8485c"/>
<rect x="170" y="510" width="1" height="8" fill="#e8485c"/>
<rect x="176" y="511" width="1" height="7" fill="#e8485c"/>
<rect x="182" y="516" width="1" height="2" fill="#e8485c"/>
<rect x="188" y="509" width="1" height="9" fill="#e8485c"/>
<rect x="194" y="506" width="1" height="12" fill="#e8485c"/>
<rect x="200" y="507" width="1" height="11" fill="#e8485c"/>
<rect x="206" y="498" width="1" height="20" fill="#e8485c"/>
<rect x="212" y="493" width="1" height="25" fill="#e8485c"/>
<rect x="218" y="485" width="1" height="33" fill="#e8485c"/>
<rect x="224" y="498" width="1" height="20" fill="#e8485c"/>
<rect x="230" y="501" width="1" height="17" fill="#e8485c"/>
<rect x="236" y="508" width="1" height="10" fill="#e8485c"/>
<rect x="242" y="518" width="1" height="6" fill="#4db486"/>
<rect x="248" y="518" width="1" height="22" fill="#4db486"/>
<rect x="254" y="518" width="1" height="34" fill="#4db486"/>
<rect x="260" y="518" width="1" height="38" fill="#4db486"/>
<rect x="266" y="518" width="1" height="34" fill="#4db486"/>
<rect x="272" y="518" width="1" height="28" fill="#4db486"/>
<rect x="278" y="518" width="1" height="19" fill="#4db486"/>
<rect x="284" y="518" width="1" height="12" fill="#4db486"/>
<rect x="290" y="518" width="1" height="10" fill="#4db486"/>
<rect x="296" y="518" width="1" height="4" fill="#4db486"/>
<rect x="302" y="512" width="1" height="6" fill="#e8485c"/>
<rect x="308" y="513" width="1" height="5" fill="#e8485c"/>
<rect x="314" y="512" width="1" height="6" fill="#e8485c"/>
<rect x="320" y="518" width="1" height="6" fill="#4db486"/>
<rect x="326" y="518" width="1" height="20" fill="#4db486"/>
<rect x="332" y="518" width="1" height="22" fill="#4db486"/>
<rect x="338" y="518" width="1" height="19" fill="#4db486"/>
<rect x="344" y="518" width="1" height="18" fill="#4db486"/>
<rect x="350" y="518" width="1" height="10" fill="#4db486"/>
<rect x="356" y="518" width="1" height="3" fill="#4db486"/>
<rect x="362" y="505" width="1" height="13" fill="#e8485c"/>
<rect x="368" y="488" width="1" height="30" fill="#e8485c"/>
<rect x="374" y="480" width="1" height="38" fill="#e8485c"/>
<rect x="380" y="481" width="1" height="37" fill="#e8485c"/>
<rect x="386" y="484" width="1" height="34" fill="#e8485c"/>
<rect x="392" y="485" width="1" height="33" fill="#e8485c"/>
<rect x="398" y="482" width="1" height="36" fill="#e8485c"/>
<rect x="404" y="484" width="1" height="34" fill="#e8485c"/>
<rect x="410" y="491" width="1" height="27" fill="#e8485c"/>
<rect x="416" y="497" width="1" height="21" fill="#e8485c"/>
<rect x="422" y="502" width="1" height="16" fill="#e8485c"/>
<rect x="428" y="494" width="1" height="24" fill="#e8485c"/>
<rect x="434" y="496" width="1" height="22" fill="#e8485c"/>
<rect x="440" y="492" width="1" height="26" fill="#e8485c"/>
<rect x="446" y="491" width="1" height="27" fill="#e8485c"/>
<rect x="452" y="493" width="1" height="25" fill="#e8485c"/>
<rect x="458" y="495" width="1" height="23" fill="#e8485c"/>
<rect x="464" y="504" width="1" height="14" fill="#e8485c"/>
<rect x="470" y="509" width="1" height="9" fill="#e8485c"/>
<rect x="476" y="516" width="1" height="2" fill="#e8485c"/>
<rect x="482" y="518" width="1" height="10" fill="#4db486"/>
<rect x="488" y="518" width="1" height="18" fill="#4db486"/>
<rect x="494" y="518" width="1" height="21" fill="#4db486"/>
<rect x="500" y="518" width="1" height="25" fill="#4db486"/>
<rect x="506" y="518" width="1" height="34" fill="#4db486"/>
<rect x="512" y="518" width="1" height="39" fill="#4db486"/>
<rect x="518" y="518" width="1" height="36" fill="#4db486"/>
<rect x="524" y="518" width="1" height="28" fill="#4db486"/>
<rect x="530" y="518" width="1" height="14" fill="#4db486"/>
<rect x="536" y="515" width="1" height="3" fill="#e8485c"/>
<rect x="542" y="504" width="1" height="14" fill="#e8485c"/>
<rect x="548" y="498" width="1" height="20" fill="#e8485c"/>
<rect x="554" y="507" width="1" height="11" fill="#e8485c"/>
<rect x="560" y="518" width="1" height="2" fill="#4db486"/>
<rect x="566" y="518" width="1" height="10" fill="#4db486"/>
<rect x="572" y="518" width="1" height="18" fill="#4db486"/>
<rect x="578" y="518" width="1" height="18" fill="#4db486"/>
<rect x="584" y="518" width="1" height="20" fill="#4db486"/>
<rect x="590" y="518" width="1" height="15" fill="#4db486"/>
<rect x="596" y="518" width="1" height="24" fill="#4db486"/>
<rect x="602" y="518" width="1" height="18" fill="#4db486"/>
<rect x="608" y="518" width="1" height="5" fill="#4db486"/>
<rect x="614" y="515" width="1" height="3" fill="#e8485c"/>
<rect x="620" y="509" width="1" height="9" fill="#e8485c"/>
<rect x="626" y="508" width="1" height="10" fill="#e8485c"/>
<rect x="632" y="513" width="1" height="5" fill="#e8485c"/>
<polyline points="92.5,533.3 98.5,534.3 104.5,533.5 110.5,531.9 116.5,528.9 122.5,524.3 128.5,517.7 134.5,509.9 140.5,503.8 146.5,499.2 152.5,496.2 158.5,494.2 164.5,493.2 170.5,492.6 176.5,492.2 182.5,491.8 188.5,490.6 194.5,489.2 200.5,487.8 206.5,484.8 212.5,481.8 218.5,478.8 224.5,476.6 230.5,474.8 236.5,473.2 242.5,473.4 248.5,476.6 254.5,481.8 260.5,486.8 266.5,490.6 272.5,493.8 278.5,495.8 284.5,497.2 290.5,498.2 296.5,498.4 302.5,498.0 308.5,497.4 314.5,497.0 320.5,497.8 326.5,500.2 332.5,502.6 338.5,504.8 344.5,507.3 350.5,508.3 356.5,508.7 362.5,507.3 368.5,503.5 374.5,499.2 380.5,494.2 386.5,489.8 392.5,485.6 398.5,481.8 404.5,477.6 410.5,474.2 416.5,472.2 422.5,470.1 428.5,467.1 434.5,464.1 440.5,461.1 446.5,458.1 452.5,455.3 458.5,452.5 464.5,450.7 470.5,449.5 476.5,449.1 482.5,450.1 488.5,452.1 494.5,455.1 500.5,458.1 506.5,461.8 512.5,466.7 518.5,471.8 524.5,476.2 530.5,477.6 536.5,476.8 542.5,475.2 548.5,472.8 554.5,471.8 560.5,472.2 566.5,473.8 572.5,476.2 578.5,479.2 584.5,481.2 590.5,482.8 596.5,485.6 602.5,487.8 608.5,488.2 614.5,487.2 620.5,486.6 626.5,485.6 632.5,485.4" fill="none" stroke="#34b876" stroke-width="1.05" stroke-linejoin="round"/>
<polyline points="92.5,534.9 98.5,538.3 104.5,532.3 110.5,524.3 116.5,514.9 122.5,500.2 128.5,486.2 134.5,483.2 140.5,482.2 146.5,482.4 152.5,485.0 158.5,487.8 164.5,490.2 170.5,489.2 176.5,489.2 182.5,491.6 188.5,486.8 194.5,483.4 200.5,483.4 206.5,476.6 212.5,469.7 218.5,462.1 224.5,466.1 230.5,466.1 236.5,468.1 242.5,474.8 248.5,486.2 254.5,497.2 260.5,504.2 266.5,506.2 272.5,507.4 278.5,505.2 284.5,502.2 290.5,503.2 296.5,500.2 302.5,495.4 308.5,495.2 314.5,494.2 320.5,500.2 326.5,510.3 332.5,514.3 338.5,514.9 344.5,516.3 350.5,513.3 356.5,510.3 362.5,499.2 368.5,487.7 374.5,479.2 380.5,475.6 386.5,472.8 392.5,470.1 398.5,464.5 404.5,461.1 410.5,461.1 416.5,461.1 422.5,462.5 428.5,455.5 434.5,453.1 440.5,448.1 446.5,444.5 452.5,443.1 458.5,441.5 464.5,443.7 470.5,445.7 476.5,448.5 482.5,455.5 488.5,461.1 494.5,466.1 500.5,471.1 506.5,479.2 512.5,487.2 518.5,490.2 524.5,490.2 530.5,483.2 536.5,476.2 542.5,469.1 548.5,463.5 554.5,468.1 560.5,474.2 566.5,478.2 572.5,485.2 578.5,487.2 584.5,490.2 590.5,489.2 596.5,496.2 602.5,496.2 608.5,491.2 614.5,486.2 620.5,482.6 626.5,480.2 632.5,482.6" fill="none" stroke="#1f7cf5" stroke-width="1.05" stroke-linejoin="round"/>
<polyline points="92.5,678.3 98.5,666.3 104.5,642.2 110.5,632.2 116.5,622.8 122.5,609.1 128.5,601.1 134.5,631.6 140.5,630.2 146.5,632.8 152.5,644.2 158.5,641.6 164.5,638.8 170.5,630.2 176.5,633.8 182.5,640.2 188.5,618.2 194.5,618.2 200.5,626.2 206.5,604.1 212.5,600.7 218.5,590.1 224.5,633.2 230.5,621.2 236.5,631.2 242.5,649.3 248.5,663.3 254.5,667.3 260.5,663.3 266.5,649.3 272.5,645.2 278.5,634.8 284.5,632.2 290.5,643.2 296.5,628.2 302.5,619.2 308.5,634.2 314.5,629.2 320.5,658.3 326.5,675.7 332.5,659.3 338.5,649.3 344.5,653.3 350.5,640.2 356.5,632.2 362.5,611.1 368.5,598.1 374.5,598.1 380.5,612.2 386.5,610.1 392.5,605.1 398.5,594.1 404.5,599.1 410.5,610.5 416.5,607.1 422.5,607.1 428.5,582.1 434.5,597.1 440.5,585.1 446.5,582.1 452.5,585.1 458.5,581.5 464.5,605.1 470.5,598.1 476.5,610.1 482.5,628.2 488.5,629.6 494.5,624.2 500.5,632.2 506.5,659.7 512.5,661.7 518.5,635.2 524.5,623.2 530.5,603.1 536.5,588.5 542.5,586.1 548.5,583.1 554.5,629.2 560.5,640.2 566.5,643.2 572.5,649.3 578.5,634.2 584.5,642.2 590.5,626.6 596.5,660.7 602.5,633.2 608.5,617.6 614.5,616.2 620.5,613.2 626.5,618.2 632.5,632.6" fill="none" stroke="#25a8e3" stroke-width="1.05" stroke-linejoin="round"/>
<text x="84.9" y="25.3" font-family="Liberation Sans, sans-serif" font-size="12" font-weight="normal" fill="#20232c" text-anchor="end" letter-spacing="0.22">1.4207</text>
<text x="663.2" y="25.3" font-family="Liberation Sans, sans-serif" font-size="12" font-weight="normal" fill="#20232c" text-anchor="start" letter-spacing="0.22">1.4207</text>
<text x="84.9" y="81.3" font-family="Liberation Sans, sans-serif" font-size="12" font-weight="normal" fill="#20232c" text-anchor="end" letter-spacing="0.22">1.4110</text>
<text x="663.2" y="81.3" font-family="Liberation Sans, sans-serif" font-size="12" font-weight="normal" fill="#20232c" text-anchor="start" letter-spacing="0.22">1.4110</text>
<text x="84.9" y="138.3" font-family="Liberation Sans, sans-serif" font-size="12" font-weight="normal" fill="#20232c" text-anchor="end" letter-spacing="0.22">1.4013</text>
<text x="663.2" y="138.3" font-family="Liberation Sans, sans-serif" font-size="12" font-weight="normal" fill="#20232c" text-anchor="start" letter-spacing="0.22">1.4013</text>
<text x="84.9" y="195.3" font-family="Liberation Sans, sans-serif" font-size="12" font-weight="normal" fill="#20232c" text-anchor="end" letter-spacing="0.22">1.3917</text>
<text x="663.2" y="195.3" font-family="Liberation Sans, sans-serif" font-size="12" font-weight="normal" fill="#20232c" text-anchor="start" letter-spacing="0.22">1.3917</text>
<text x="84.9" y="252.3" font-family="Liberation Sans, sans-serif" font-size="12" font-weight="normal" fill="#20232c" text-anchor="end" letter-spacing="0.22">1.3820</text>
<text x="663.2" y="252.3" font-family="Liberation Sans, sans-serif" font-size="12" font-weight="normal" fill="#20232c" text-anchor="start" letter-spacing="0.22">1.3820</text>
<text x="84.9" y="309.3" font-family="Liberation Sans, sans-serif" font-size="12" font-weight="normal" fill="#20232c" text-anchor="end" letter-spacing="0.22">1.3723</text>
<text x="663.2" y="309.3" font-family="Liberation Sans, sans-serif" font-size="12" font-weight="normal" fill="#20232c" text-anchor="start" letter-spacing="0.22">1.3723</text>
<text x="84.9" y="366.3" font-family="Liberation Sans, sans-serif" font-size="12" font-weight="normal" fill="#20232c" text-anchor="end" letter-spacing="0.22">1.3626</text>
<text x="663.2" y="366.3" font-family="Liberation Sans, sans-serif" font-size="12" font-weight="normal" fill="#20232c" text-anchor="start" letter-spacing="0.22">1.3626</text>
<text x="84.9" y="444.3" font-family="Liberation Sans, sans-serif" font-size="12" font-weight="normal" fill="#20232c" text-anchor="end" letter-spacing="0.22">0.0057</text>
<text x="663.2" y="444.3" font-family="Liberation Sans, sans-serif" font-size="12" font-weight="normal" fill="#20232c" text-anchor="start" letter-spacing="0.22">0.0057</text>
<text x="84.9" y="467.3" font-family="Liberation Sans, sans-serif" font-size="12" font-weight="normal" fill="#20232c" text-anchor="end" letter-spacing="0.22">0.0040</text>
<text x="663.2" y="467.3" font-family="Liberation Sans, sans-serif" font-size="12" font-weight="normal" fill="#20232c" text-anchor="start" letter-spacing="0.22">0.0040</text>
<text x="84.9" y="491.3" font-family="Liberation Sans, sans-serif" font-size="12" font-weight="normal" fill="#20232c" text-anchor="end" letter-spacing="0.22">0.0022</text>
<text x="663.2" y="491.3" font-family="Liberation Sans, sans-serif" font-size="12" font-weight="normal" fill="#20232c" text-anchor="start" letter-spacing="0.22">0.0022</text>
<text x="84.9" y="514.3" font-family="Liberation Sans, sans-serif" font-size="12" font-weight="normal" fill="#20232c" text-anchor="end" letter-spacing="0.22">0.0004</text>
<text x="663.2" y="514.3" font-family="Liberation Sans, sans-serif" font-size="12" font-weight="normal" fill="#20232c" text-anchor="start" letter-spacing="0.22">0.0004</text>
<text x="84.9" y="538.3" font-family="Liberation Sans, sans-serif" font-size="12" font-weight="normal" fill="#20232c" text-anchor="end" letter-spacing="0.22">-0.0013</text>
<text x="663.2" y="538.3" font-family="Liberation Sans, sans-serif" font-size="12" font-weight="normal" fill="#20232c" text-anchor="start" letter-spacing="0.22">-0.0013</text>
<text x="84.9" y="584.3" font-family="Liberation Sans, sans-serif" font-size="12" font-weight="normal" fill="#20232c" text-anchor="end" letter-spacing="0.22">70.3647</text>
<text x="663.2" y="584.3" font-family="Liberation Sans, sans-serif" font-size="12" font-weight="normal" fill="#20232c" text-anchor="start" letter-spacing="0.22">70.3647</text>
<text x="84.9" y="608.3" font-family="Liberation Sans, sans-serif" font-size="12" font-weight="normal" fill="#20232c" text-anchor="end" letter-spacing="0.22">63.0468</text>
<text x="663.2" y="608.3" font-family="Liberation Sans, sans-serif" font-size="12" font-weight="normal" fill="#20232c" text-anchor="start" letter-spacing="0.22">63.0468</text>
<text x="84.9" y="633.3" font-family="Liberation Sans, sans-serif" font-size="12" font-weight="normal" fill="#20232c" text-anchor="end" letter-spacing="0.22">55.7288</text>
<text x="663.2" y="633.3" font-family="Liberation Sans, sans-serif" font-size="12" font-weight="normal" fill="#20232c" text-anchor="start" letter-spacing="0.22">55.7288</text>
<text x="84.9" y="658.3" font-family="Liberation Sans, sans-serif" font-size="12" font-weight="normal" fill="#20232c" text-anchor="end" letter-spacing="0.22">48.4109</text>
<text x="663.2" y="658.3" font-family="Liberation Sans, sans-serif" font-size="12" font-weight="normal" fill="#20232c" text-anchor="start" letter-spacing="0.22">48.4109</text>
<text x="90.6" y="433" font-family="Liberation Sans, sans-serif" font-size="12" fill="#222" letter-spacing="0.15">MACD(26,12,9)</text>
<text x="180.0" y="433" font-family="Liberation Sans, sans-serif" font-size="12" font-weight="normal" fill="#3f8cf4" text-anchor="start" letter-spacing="0">DIFF:0.0026</text>
<text x="255.1" y="433" font-family="Liberation Sans, sans-serif" font-size="12" font-weight="normal" fill="#57c88c" text-anchor="start" letter-spacing="0">DEA:0.0024</text>
<text x="328.5" y="433" font-family="Liberation Sans, sans-serif" font-size="12" font-weight="normal" fill="#35b3ea" text-anchor="start" letter-spacing="0">MACD:0.0003</text>
<text x="90.6" y="573" font-family="Liberation Sans, sans-serif" font-size="12" font-weight="normal" fill="#111" text-anchor="start" letter-spacing="0">RSI(14,14,14)</text>
<text x="169.8" y="573" font-family="Liberation Sans, sans-serif" font-size="12" font-weight="normal" fill="#3f8cf4" text-anchor="start" letter-spacing="0">RSI1:54.9370</text>
<text x="251.7" y="573" font-family="Liberation Sans, sans-serif" font-size="12" font-weight="normal" fill="#57c88c" text-anchor="start" letter-spacing="0">RSI2:54.9370</text>
<text x="333.9" y="573" font-family="Liberation Sans, sans-serif" font-size="12" font-weight="normal" fill="#35b3ea" text-anchor="start" letter-spacing="0">RSI3:54.9370</text>
<text x="136.3" y="691.8" font-family="Liberation Sans, sans-serif" font-size="12" font-weight="bold" fill="#222" text-anchor="start" letter-spacing="0.15">2025/08</text>
<line x1="134.5" y1="680" x2="134.5" y2="684" stroke="#c8d0dc"/>
<text x="262.3" y="691.8" font-family="Liberation Sans, sans-serif" font-size="12" font-weight="bold" fill="#222" text-anchor="start" letter-spacing="0.15">2025/09</text>
<line x1="260.5" y1="680" x2="260.5" y2="684" stroke="#c8d0dc"/>
<text x="394.3" y="691.8" font-family="Liberation Sans, sans-serif" font-size="12" font-weight="bold" fill="#222" text-anchor="start" letter-spacing="0.15">2025/10</text>
<line x1="392.5" y1="680" x2="392.5" y2="684" stroke="#c8d0dc"/>
<text x="532.3" y="691.8" font-family="Liberation Sans, sans-serif" font-size="12" font-weight="bold" fill="#222" text-anchor="start" letter-spacing="0.15">2025/11</text>
<line x1="530.5" y1="680" x2="530.5" y2="684" stroke="#c8d0dc"/>
<rect x="659.6" y="101.4" width="67.8" height="16.8" rx="0.6" fill="#fff" stroke="#ff8000" stroke-width="1.2"/>
<text x="662.3" y="113.7" font-family="Liberation Sans, sans-serif" font-size="12" font-weight="normal" fill="#ff8000" text-anchor="start" letter-spacing="0">1.4071</text>
<path d="M719.2 101.2L723.4 97.3L727.6 101.2ZM719.9 96.8L723.4 93.2L726.9 96.8Z" fill="#ff8000"/>
<rect x="596.6" y="1.5" width="12.8" height="12.9" fill="#fff" stroke="#1c79d1" stroke-width="1"/>
<rect x="612.6" y="1.5" width="12.8" height="12.9" fill="#fff" stroke="#1c79d1" stroke-width="1"/>
<rect x="628.6" y="1.5" width="12.8" height="12.9" fill="#1c79d1" stroke="#1c79d1" stroke-width="1"/>
<rect x="644.6" y="1.5" width="12.8" height="12.9" fill="#fff" stroke="#1c79d1" stroke-width="1"/>
<path d="M598.1 8H601M605 8H607.9M603 3.2V5.6M603 10.4V12.8M602.2 8H603.8" stroke="#1c79d1" stroke-width="1.9" fill="none"/>
<path d="M615.3 3.4V12.8M614.1 11.4H623.6" stroke="#1c79d1" stroke-width="1" fill="none"/>
<path d="M615.3 2.6L617 5H613.6ZM624.4 11.4L622 9.8V13ZM615.3 13.4L616.3 12.2H614.3ZM613.6 11.4L614.8 10.5V12.3Z" fill="#1c79d1"/>
<path d="M618.5 4.1V9.7" stroke="#1c79d1" stroke-width="1.1"/><path d="M619.2 6.9L621.9 4.1V9.0Z" fill="#1c79d1"/>
<path d="M631.4 3.4V12.8M630.1 11.4H639.4" stroke="#fff" stroke-width="1" fill="none"/>
<path d="M631.4 2.6L633.1 5H629.7ZM640.4 11.4L638 9.8V13ZM631.4 13.4L632.4 12.2H630.4ZM629.7 11.4L630.9 10.5V12.3Z" fill="#fff"/>
<path d="M634.4 4.2V9.8" stroke="#fff" stroke-width="1.1"/><path d="M635.1 4.1L639 7L635.1 9.9Z" fill="#f0f6fc"/>
<rect x="646.5" y="3.5" width="3.3" height="9" fill="none" stroke="#1c79d1" stroke-width="1"/>
<path d="M648.4 8H653" stroke="#1c79d1" stroke-width="1.9"/><path d="M652.1 4.8L656 8L652.1 11.2Z" fill="#1c79d1"/>
<text x="89.6" y="14.6" font-family="Liberation Sans, Noto Sans CJK SC, sans-serif" font-size="12.3" fill="#000" stroke="#000" stroke-width="0.15" letter-spacing="-0.5">美元加元</text>
<text x="137.8" y="14.6" font-family="Liberation Sans, Noto Sans CJK SC, sans-serif" font-size="12" fill="#ff8a1a">【<tspan fill="#ff8000">日线</tspan>】</text>
<circle cx="190.6" cy="11.7" r="4.2" fill="none" stroke="#ff8a1a" stroke-width="0.8"/><path d="M186.4 11.7H194.8M190.6 7.5V15.9" stroke="#ff8a1a" stroke-width="0.8"/>
<rect x="0" y="0" width="17.6" height="213" fill="#e4e6ec"/>
<rect x="0" y="51" width="17" height="46" fill="#ff6600"/>
<line x1="0" y1="149.5" x2="17" y2="149.5" stroke="#d3d6de"/>
<line x1="17.5" y1="213" x2="17.5" y2="698" stroke="#c9d2de"/>
<line x1="0" y1="213.5" x2="17.5" y2="213.5" stroke="#c9d2de"/>
<g font-family="Liberation Sans, Noto Sans CJK SC, sans-serif" font-size="13" fill="#111" stroke="#111" stroke-width="0.1">
<text transform="translate(1.2 18) scale(1 1.1)">分</text>
<text transform="translate(1.2 32.1) scale(1 1.1)">时</text>
<text transform="translate(1.2 46.2) scale(1 1.1)">图</text>
</g>
<g font-family="Liberation Sans, Noto Sans CJK SC, sans-serif" font-size="13" fill="#fff" stroke="#fff" stroke-width="0.1">
<text transform="translate(1.2 81.1) scale(1 1.1)">线</text>
<text transform="translate(1.2 94.9) scale(1 1.1)">图</text>
</g>
<text x="8.5" y="66" font-family="Liberation Serif, serif" font-size="11" fill="#fff" text-anchor="middle">K</text>
<g font-family="Liberation Sans, Noto Sans CJK SC, sans-serif" font-size="13" fill="#111" stroke="#111" stroke-width="0.1">
<text transform="translate(1.2 115.5) scale(1 1.1)">闪</text>
<text transform="translate(1.2 129.5) scale(1 1.1)">电</text>
<text transform="translate(1.2 143.5) scale(1 1.1)">图</text>
</g>
<g font-family="Liberation Sans, Noto Sans CJK SC, sans-serif" font-size="13" fill="#111" stroke="#111" stroke-width="0.1">
<text transform="translate(1.2 168) scale(1 1.1)">合</text>
<text transform="translate(1.2 182) scale(1 1.1)">约</text>
<text transform="translate(1.2 196) scale(1 1.1)">资</text>
<text transform="translate(1.2 210) scale(1 1.1)">料</text>
</g>
<line x1="87.5" y1="679" x2="87.5" y2="698" stroke="#c9d2de"/>
<line x1="17.5" y1="679.5" x2="88" y2="679.5" stroke="#c9d2de"/>
<text x="32.3" y="695" font-family="Liberation Sans, Noto Sans CJK SC, sans-serif" font-size="13" font-weight="bold" fill="#ff6a00" letter-spacing="-0.7">日线</text>
<path d="M62.5 694L66.8 686L71.1 694Z" fill="#ff7a00"/>
<text x="600.9" y="673.3" font-family="Liberation Sans, sans-serif" font-size="31" letter-spacing="1.8" fill="#9c846c" opacity="0.75">FX678</text>
<text x="599.7" y="672.1" font-family="Liberation Sans, sans-serif" font-size="31" letter-spacing="1.8" fill="#d9e6f7" opacity="0.97">FX678</text>
<circle cx="26.9" cy="566.1" r="2.1" fill="#f00"/><circle cx="26.9" cy="566.1" r="3.3" fill="none" stroke="#111" stroke-width="0.8"/>
<path d="M31.80 566.10L34.10 566.10M30.36 569.56L31.99 571.19M26.90 571.00L26.90 573.30M23.44 569.56L21.81 571.19M22.00 566.10L19.70 566.10M23.44 562.64L21.81 561.01M26.90 561.20L26.90 558.90M30.36 562.64L31.99 561.01" stroke="#f22" stroke-width="1" fill="none"/>
<line x1="523" y1="696.5" x2="633" y2="696.5" stroke="#e6eaf0"/></svg></body></html>
